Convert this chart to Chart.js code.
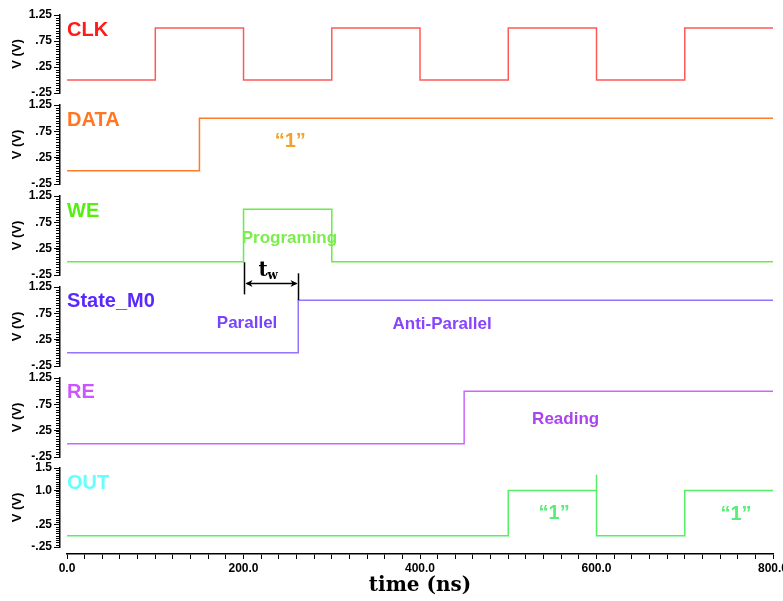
<!DOCTYPE html>
<html>
<head>
  <title>Timing Diagram</title>
  <script src="https://cdn.jsdelivr.net/npm/chart.js"></script>
  <style>
    body {
      margin: 0;
      background: #fff;
    }

    #wrap {
      position: relative;
      width: 783px;
      height: 601px;
    }

    #wrap canvas {
      position: absolute;
      left: 0;
      top: 0;
    }
  </style>
</head>
<body>
  <div id="wrap"></div>

  <script>
    // time axis (ns)
    const timeTicks = [0, 200, 400, 600, 800];

    // each signal: edge times (ns) and the level reached at that time
    const clkTimes = [0, 100, 200, 300, 400, 500, 600, 700, 800];
    const clkLevels = [0, 1, 0, 1, 0, 1, 0, 1, 1];
    const dataTimes = [0, 150, 800];
    const dataLevels = [0, 1, 1];
    const weTimes = [0, 200, 300, 800];
    const weLevels = [0, 1, 0, 0];
    const stateTimes = [0, 262, 800];
    const stateLevels = [0, 1, 1];
    const reTimes = [0, 450, 800];
    const reLevels = [0, 1, 1];
    const outTimes = [0, 500, 600, 600, 700, 800];
    const outLevels = [0, 1, 1.35, 0, 1, 1];

    // y tick labels
    const voltTicks = [-0.25, 0.25, 0.75, 1.25];
    const voltTickText = ["-.25", ".25", ".75", "1.25"];
    const outTicks = [-0.25, 0.25, 1.0, 1.5];
    const outTickText = ["-.25", ".25", "1.0", "1.5"];

    const W = 783, H = 601;
    const sans = '"Liberation Sans", Arial, sans-serif';
    const wrap = document.getElementById("wrap");

    const panels = [
      { name: "CLK", times: clkTimes, levels: clkLevels, line: "#ff5a5a", color: "#ff1a1a",
        top: 15, bottom: 93, min: -0.25, max: 1.25, ticks: voltTicks, tickText: voltTickText, nameAt: 0.85,
        notes: [] },
      { name: "DATA", times: dataTimes, levels: dataLevels, line: "#ff7a2a", color: "#ff7722",
        top: 105, bottom: 184, min: -0.25, max: 1.25, ticks: voltTicks, tickText: voltTickText, nameAt: 0.85,
        notes: [{ text: "\u201c1\u201d", t: 253, v: 0.55, color: "#f5a028", size: 20 }] },
      { name: "WE", times: weTimes, levels: weLevels, line: "#66ee44", color: "#55ee11",
        top: 196, bottom: 275, min: -0.25, max: 1.25, ticks: voltTicks, tickText: voltTickText, nameAt: 0.85,
        notes: [{ text: "Programing", t: 252, v: 0.45, color: "#7aee4a", size: 17 }] },
      { name: "State_M0", times: stateTimes, levels: stateLevels, line: "#9573ff", color: "#5a28ff",
        top: 287, bottom: 366, min: -0.25, max: 1.25, ticks: voltTicks, tickText: voltTickText, nameAt: 0.87,
        notes: [
          { text: "Parallel", t: 204, v: 0.57, color: "#7a44ff", size: 17 },
          { text: "Anti-Parallel", t: 425, v: 0.55, color: "#8844ff", size: 17 }
        ], tw: true },
      { name: "RE", times: reTimes, levels: reLevels, line: "#cc66ff", color: "#cc55ff",
        top: 378, bottom: 457, min: -0.25, max: 1.25, ticks: voltTicks, tickText: voltTickText, nameAt: 0.87,
        notes: [{ text: "Reading", t: 565, v: 0.47, color: "#aa44ee", size: 17 }] },
      { name: "OUT", times: outTimes, levels: outLevels, line: "#55ee66", color: "#66ffff",
        top: 468, bottom: 547, min: -0.25, max: 1.5, ticks: outTicks, tickText: outTickText, nameAt: 1.04,
        notes: [
          { text: "\u201c1\u201d", t: 552, v: 0.5, color: "#55ee77", size: 20 },
          { text: "\u201c1\u201d", t: 758, v: 0.46, color: "#55ee77", size: 20 }
        ] }
    ];

    function addCanvas() {
      const c = document.createElement("canvas");
      c.width = W;
      c.height = H;
      wrap.appendChild(c);
      return c;
    }

    function line(ctx, x1, y1, x2, y2) {
      ctx.beginPath();
      ctx.moveTo(x1, y1);
      ctx.lineTo(x2, y2);
      ctx.stroke();
    }

    function notesPlugin(p) {
      return {
        id: "notes",
        afterDraw(chart) {
          const ctx = chart.ctx;
          const x = chart.scales.x, y = chart.scales.y;
          ctx.save();

          // minor ticks on the voltage axis, every 0.05 V
          ctx.strokeStyle = "#000";
          ctx.lineWidth = 1;
          for (let i = Math.round(p.min * 100); i <= Math.round(p.max * 100); i += 5) {
            const py = Math.round(y.getPixelForValue(i / 100)) + 0.5;
            line(ctx, y.right - 4, py, y.right, py);
          }

          ctx.fillStyle = p.color;
          ctx.font = "bold 20px " + sans;
          ctx.textAlign = "left";
          ctx.textBaseline = "alphabetic";
          ctx.fillText(p.name, x.getPixelForValue(0), y.getPixelForValue(p.nameAt));

          ctx.textAlign = "center";
          ctx.textBaseline = "middle";
          for (const n of p.notes) {
            ctx.fillStyle = n.color;
            ctx.font = "bold " + n.size + "px " + sans;
            ctx.fillText(n.text, x.getPixelForValue(n.t), y.getPixelForValue(n.v));
          }

          if (p.tw) {
            // t_w marker: WE rising edge -> State_M0 switching
            const xa = Math.round(x.getPixelForValue(200)) + 0.5;
            const xb = Math.round(x.getPixelForValue(262)) + 0.5;
            const ya = Math.round(y.getPixelForValue(1.32)) + 0.5;
            ctx.strokeStyle = "#000";
            ctx.fillStyle = "#000";
            ctx.lineWidth = 1.5;
            line(ctx, xa, y.getPixelForValue(1.72), xa, y.getPixelForValue(1.11));
            line(ctx, xb, y.getPixelForValue(1.51), xb, y.getPixelForValue(1.0));
            line(ctx, xa + 2, ya, xb - 2, ya);
            ctx.beginPath();
            ctx.moveTo(xa + 1, ya);
            ctx.lineTo(xa + 8, ya - 3.5);
            ctx.lineTo(xa + 6, ya);
            ctx.lineTo(xa + 8, ya + 3.5);
            ctx.closePath();
            ctx.fill();
            ctx.beginPath();
            ctx.moveTo(xb - 1, ya);
            ctx.lineTo(xb - 8, ya - 3.5);
            ctx.lineTo(xb - 6, ya);
            ctx.lineTo(xb - 8, ya + 3.5);
            ctx.closePath();
            ctx.fill();

            ctx.textAlign = "left";
            ctx.textBaseline = "alphabetic";
            ctx.font = 'bold 20px "DejaVu Serif", serif';
            ctx.fillText("t", xa + 14, y.getPixelForValue(1.46));
            ctx.font = 'bold 12px "DejaVu Serif", serif';
            ctx.fillText("w", xa + 23, y.getPixelForValue(1.40));
          }
          ctx.restore();
        }
      };
    }

    for (const p of panels) {
      new Chart(addCanvas(), {
        type: "line",
        data: {
          datasets: [{
            data: p.times.map((t, i) => ({ x: t, y: p.levels[i] })),
            stepped: "before",
            borderColor: p.line,
            borderWidth: 1.5,
            pointRadius: 0,
            fill: false
          }]
        },
        options: {
          responsive: false,
          animation: false,
          events: [],
          layout: { padding: { top: p.top, bottom: H - p.bottom, left: 0, right: 10 } },
          plugins: { legend: { display: false }, tooltip: { enabled: false } },
          scales: {
            x: { type: "linear", min: -8, max: 800, display: false },
            y: {
              min: p.min,
              max: p.max,
              afterBuildTicks(scale) {
                scale.ticks = p.ticks.map(v => ({ value: v }));
              },
              afterFit(scale) {
                scale.width = 60;
              },
              ticks: {
                autoSkip: false,
                padding: 2,
                color: "#000",
                font: { family: sans, size: 12, weight: "bold" },
                callback(v) {
                  const k = p.ticks.findIndex(t => Math.abs(t - v) < 1e-6);
                  return k < 0 ? "" : p.tickText[k];
                }
              },
              grid: { drawOnChartArea: false, tickLength: 6, color: "#000" },
              border: { color: "#000", width: 1.5 },
              title: {
                display: true,
                text: "V (V)",
                color: "#000",
                font: { family: sans, size: 13, weight: "bold" },
                padding: { top: 10, bottom: 0 }
              }
            }
          }
        },
        plugins: [notesPlugin(p)]
      });
    }

    // shared time axis under the panels
    new Chart(addCanvas(), {
      type: "line",
      data: { datasets: [] },
      options: {
        responsive: false,
        animation: false,
        events: [],
        layout: { padding: { top: 540, bottom: 0, left: 67, right: 10 } },
        plugins: { legend: { display: false }, tooltip: { enabled: false } },
        scales: {
          x: {
            type: "linear",
            min: 0,
            max: 800,
            afterBuildTicks(scale) {
              const ticks = [];
              for (let t = 0; t <= 800; t += 20) ticks.push({ value: t });
              scale.ticks = ticks;
            },
            afterFit(scale) {
              scale.height = 47;
              scale.paddingLeft = 0;
              scale.paddingRight = 0;
            },
            ticks: {
              autoSkip: false,
              maxRotation: 0,
              padding: 2,
              color: "#000",
              font: { family: sans, size: 12, weight: "bold" },
              callback(v) {
                return timeTicks.includes(v) ? v.toFixed(1) : "";
              }
            },
            grid: { drawOnChartArea: false, tickLength: 5, color: "#000" },
            border: { color: "#000", width: 1.5 },
            title: {
              display: true,
              text: "time (ns)",
              color: "#000",
              font: { family: '"DejaVu Serif", serif', size: 20, weight: "bold" },
              padding: { top: 0, bottom: 3 }
            }
          },
          y: { display: false }
        }
      }
    });
  </script>
</body>
</html>
